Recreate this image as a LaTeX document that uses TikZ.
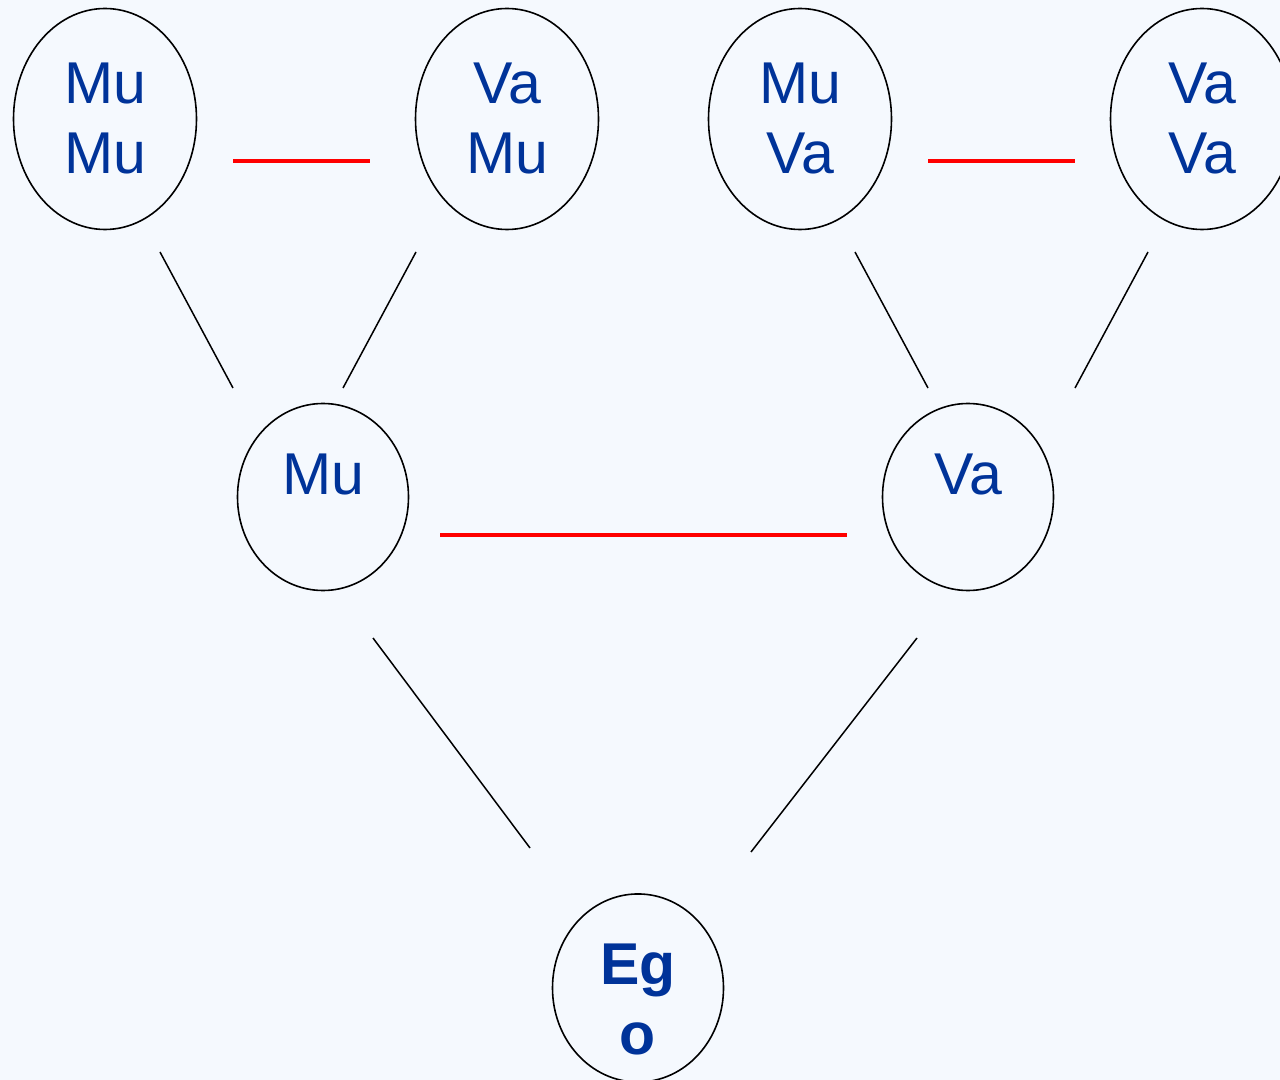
\documentclass[tikz,border=0pt]{standalone}
\usepackage{fontspec}
\setmainfont{Liberation Sans}
\usetikzlibrary{shapes.geometric}
\definecolor{bgblue}{HTML}{F5F9FE}
\definecolor{txtblue}{HTML}{003399}
\begin{document}
\begin{tikzpicture}[x=0.5pt,y=-0.5pt,
  kin/.style={ellipse,draw=black,line width=0.8pt,inner sep=0pt,
    text=txtblue,align=center,text height=22pt,
    font=\fontsize{29.5pt}{35pt}\selectfont},
  pair/.style={kin,minimum width=91.5pt,minimum height=110.5pt,text height=57pt,text depth=2pt},
  single/.style={kin,minimum width=85.5pt,minimum height=93.5pt,text depth=24.5pt},
  tie/.style={red,line width=2.4pt},
  descent/.style={black,line width=0.75pt}]
\useasboundingbox (0,0) rectangle (1280,1080);
\fill[bgblue] (0,0) rectangle (1280,1080);
% grandparents
\node[pair] (mumu) at (105,119) {Mu\\Mu};
\node[pair] (vamu) at (507,119) {Va\\Mu};
\node[pair] (muva) at (800,119) {Mu\\Va};
\node[pair] (vava) at (1202,119) {Va\\Va};
% parents
\node[single] (mu) at (323,497) {Mu};
\node[single] (va) at (968,497) {Va};
% ego
\node[single,text height=66.5pt,text depth=0pt,font=\fontsize{29.5pt}{35pt}\selectfont\bfseries] (ego) at (638,988) {Eg\\o};
% line ends
\coordinate (mumu-d) at (160,252);
\coordinate (vamu-d) at (416,252);
\coordinate (muva-d) at (855,252);
\coordinate (vava-d) at (1148,252);
\coordinate (mu-ul) at (233,388);
\coordinate (mu-ur) at (343,388);
\coordinate (va-ul) at (928,388);
\coordinate (va-ur) at (1075,388);
\coordinate (mu-d) at (373,638);
\coordinate (va-d) at (917,638);
\coordinate (ego-ul) at (530,848);
\coordinate (ego-ur) at (751,852);
\coordinate (tie1-l) at (233,161);
\coordinate (tie1-r) at (370,161);
\coordinate (tie2-l) at (928,161);
\coordinate (tie2-r) at (1075,161);
\coordinate (tie3-l) at (440,535);
\coordinate (tie3-r) at (847,535);
% marriages
\draw[tie] (tie1-l) -- (tie1-r);
\draw[tie] (tie2-l) -- (tie2-r);
\draw[tie] (tie3-l) -- (tie3-r);
% descent
\draw[descent] (mumu-d) -- (mu-ul);
\draw[descent] (vamu-d) -- (mu-ur);
\draw[descent] (muva-d) -- (va-ul);
\draw[descent] (vava-d) -- (va-ur);
\draw[descent] (mu-d) -- (ego-ul);
\draw[descent] (va-d) -- (ego-ur);
\end{tikzpicture}
\end{document}
